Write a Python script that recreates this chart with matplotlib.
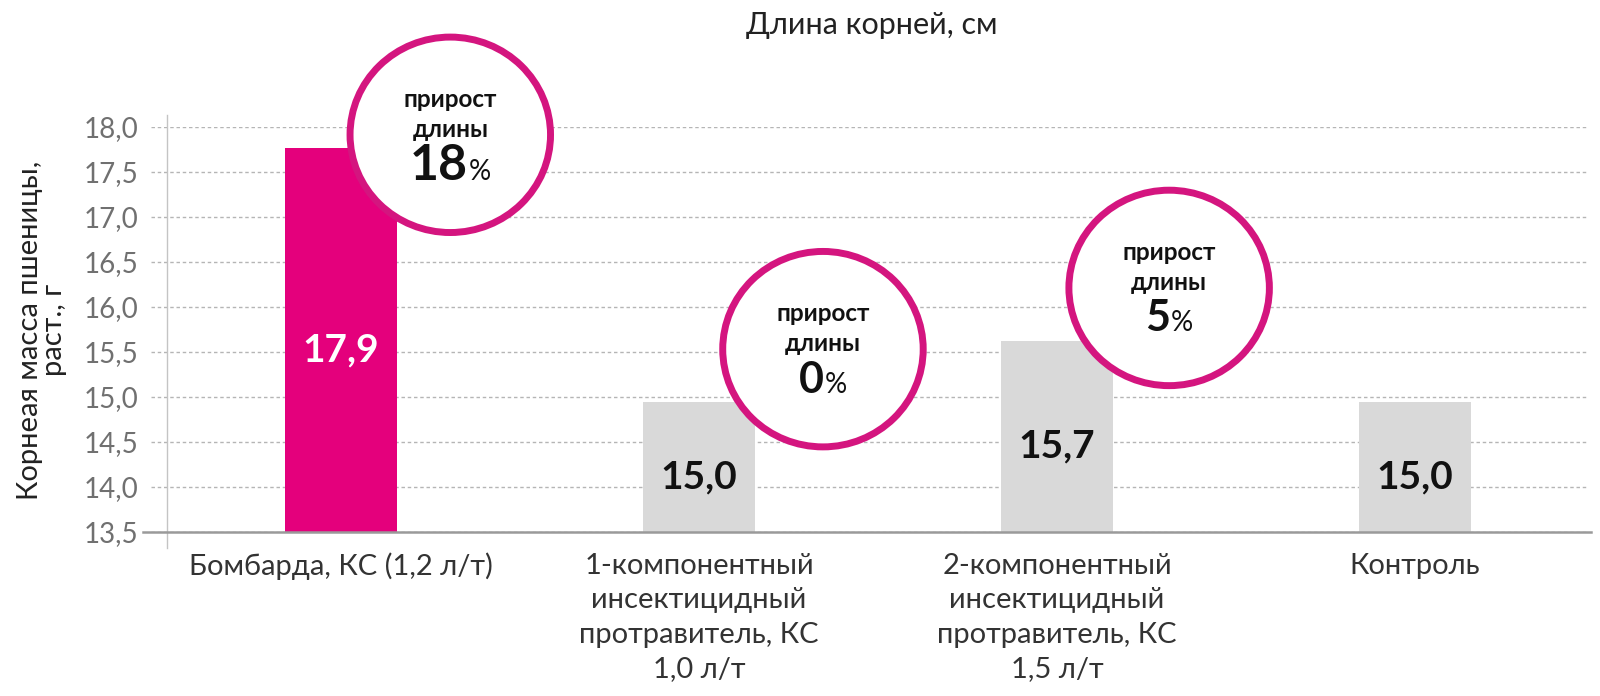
import matplotlib
matplotlib.use("Agg")
import matplotlib.pyplot as plt
from matplotlib.patches import Ellipse
from matplotlib.offsetbox import TextArea, HPacker, AnnotationBbox
from matplotlib.ticker import FuncFormatter

plt.rcParams["font.family"] = ["Lato", "DejaVu Sans"]

# данные
categories = ["Бомбарда, КС (1,2 л/т)",
              "1-компонентный\nинсектицидный\nпротравитель, КС\n1,0 л/т",
              "2-компонентный\nинсектицидный\nпротравитель, КС\n1,5 л/т",
              "Контроль"]
bar_heights = [17.76, 14.94, 15.62, 14.94]
bar_labels = ["17,9", "15,0", "15,7", "15,0"]
growth_pct = ["18", "0", "5"]
growth_bar = [0, 1, 2]
y_ticks = [13.5, 14.0, 14.5, 15.0, 15.5, 16.0, 16.5, 17.0, 17.5, 18.0]

# размещение кружков (сдвиг от столбика, высота центра)
circle_dx = [0.305, 0.346, 0.313]
circle_y = [17.91, 15.53, 16.21]

pink = "#e4007c"
ring = "#d4157f"
grey_bar = "#d9d9d9"

fig = plt.figure(figsize=(16, 6.96), dpi=100)
ax = fig.add_axes([151 / 1600, 1 - 532 / 696, (1588 - 151) / 1600, (532 - 126.7) / 696])

x = list(range(len(categories)))
colors = [pink] + [grey_bar] * (len(categories) - 1)
ax.bar(x, [h - 13.5 for h in bar_heights], bottom=13.5, width=0.313,
       color=colors, zorder=2)

for i, (h, lab) in enumerate(zip(bar_heights, bar_labels)):
    ax.text(i, (13.5 + h) / 2 - 0.11, lab, ha="center", va="center",
            fontsize=28, fontweight="bold",
            color="white" if i == 0 else "#111111", zorder=3)

ax.set_xlim(-0.531, 3.483)
ax.set_ylim(13.5, 18.0)
ax.set_yticks(y_ticks)
ax.yaxis.set_major_formatter(FuncFormatter(lambda v, p: f"{v:.1f}".replace(".", ",")))
ax.set_xticks(x, categories, linespacing=1.4, fontsize=21, color="#333333")
ax.tick_params(axis="y", length=0, pad=9, labelsize=20, labelcolor="#707070")
ax.tick_params(axis="x", length=0, pad=15)
for s in ax.spines.values():
    s.set_visible(False)
ax.set_axisbelow(True)
ax.yaxis.grid(True, linestyle=(0, (2.5, 2)), color="#b5b5b5", linewidth=1, zorder=0)

# оси
ax.plot([-0.553, 3.49], [13.5, 13.5], color="#9a9a9a", lw=1.8, clip_on=False, zorder=3)
ax.plot([-0.486, -0.486], [13.32, 18.13], color="#c4c4c4", lw=1, clip_on=False, zorder=1)

# кружки прироста
for k, b in enumerate(growth_bar):
    cx = b + circle_dx[k]
    cy = circle_y[k]
    ax.add_patch(Ellipse((cx, cy), 0.56, 2.17, facecolor="white", edgecolor=ring,
                         lw=5, zorder=4, clip_on=False))
    ax.annotate("прирост", (cx, cy), xytext=(0, 25.5), textcoords="offset points",
                ha="center", va="center", fontsize=17.5, fontweight="bold",
                color="#111111", zorder=6, annotation_clip=False)
    ax.annotate("длины", (cx, cy), xytext=(0, 4), textcoords="offset points",
                ha="center", va="center", fontsize=17.5, fontweight="bold",
                color="#111111", zorder=6, annotation_clip=False)
    num = TextArea(growth_pct[k], textprops=dict(fontsize=36 if k == 0 else 31,
                                                 fontweight="bold", color="#111111"))
    pct = TextArea("%", textprops=dict(fontsize=20, color="#111111"))
    box = HPacker(children=[num, pct], align="baseline", pad=0, sep=1)
    ab = AnnotationBbox(box, (cx, cy), xybox=(0, -22), boxcoords="offset points",
                        frameon=False, box_alignment=(0.5, 0.5), zorder=6,
                        annotation_clip=False)
    ax.add_artist(ab)

fig.text(872 / 1600, 1 - 25 / 696, "Длина корней, см", ha="center", va="center",
         fontsize=22, color="#222222")
fig.text(42 / 1600, 1 - 330 / 696, "Корнеая масса пшеницы,\nраст., г", rotation=90,
         ha="center", va="center", fontsize=21, linespacing=0.9, color="#222222")

fig.savefig("out.png", dpi=100)
